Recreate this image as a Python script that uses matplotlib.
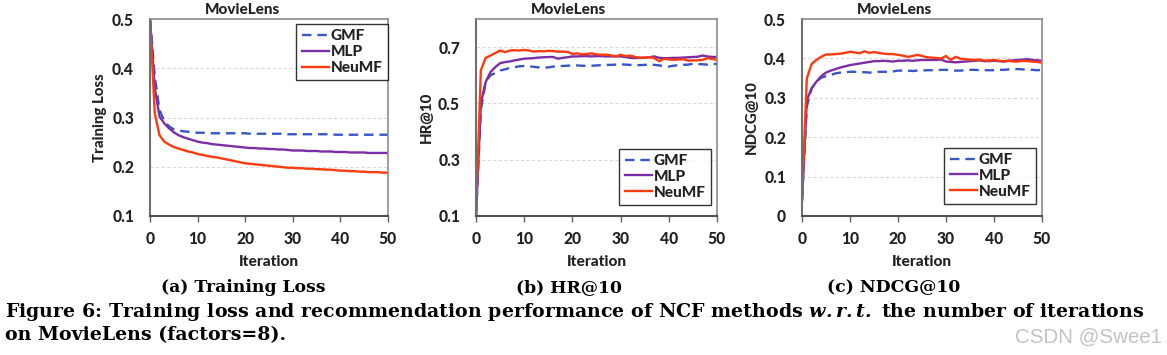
import matplotlib
matplotlib.use("Agg")
import matplotlib.pyplot as plt
import numpy as np

iterations = list(range(51))

loss_gmf = [0.500, 0.383, 0.315, 0.293, 0.282, 0.276, 0.274, 0.272, 0.271, 0.270,
            0.269, 0.269, 0.269, 0.268, 0.268, 0.268, 0.268, 0.268, 0.268, 0.268,
            0.268, 0.267, 0.267, 0.267, 0.267, 0.267, 0.267, 0.267, 0.267, 0.266,
            0.266, 0.266, 0.266, 0.266, 0.266, 0.266, 0.266, 0.266, 0.266, 0.265,
            0.265, 0.265, 0.265, 0.265, 0.265, 0.265, 0.265, 0.265, 0.265, 0.265, 0.265]
loss_mlp = [0.500, 0.360, 0.302, 0.288, 0.278, 0.270, 0.264, 0.260, 0.257, 0.254,
            0.251, 0.249, 0.248, 0.246, 0.245, 0.244, 0.243, 0.242, 0.241, 0.240,
            0.239, 0.238, 0.238, 0.237, 0.237, 0.236, 0.236, 0.235, 0.235, 0.234,
            0.233, 0.233, 0.233, 0.232, 0.232, 0.232, 0.231, 0.231, 0.231, 0.230,
            0.230, 0.230, 0.229, 0.229, 0.229, 0.229, 0.228, 0.228, 0.228, 0.228, 0.228]
loss_neumf = [0.500, 0.308, 0.264, 0.251, 0.245, 0.240, 0.237, 0.234, 0.231, 0.229,
              0.226, 0.224, 0.222, 0.220, 0.219, 0.217, 0.215, 0.213, 0.211, 0.209,
              0.207, 0.206, 0.205, 0.204, 0.203, 0.202, 0.201, 0.200, 0.199, 0.198,
              0.198, 0.197, 0.197, 0.196, 0.196, 0.195, 0.195, 0.194, 0.194, 0.193,
              0.192, 0.192, 0.191, 0.191, 0.190, 0.190, 0.189, 0.189, 0.189, 0.188, 0.188]

hr_gmf = [0.100, 0.476, 0.576, 0.600, 0.608, 0.617, 0.621, 0.626, 0.629, 0.632,
          0.633, 0.632, 0.630, 0.628, 0.627, 0.628, 0.631, 0.633, 0.633, 0.634,
          0.635, 0.635, 0.634, 0.633, 0.634, 0.635, 0.636, 0.637, 0.637, 0.638,
          0.639, 0.638, 0.637, 0.636, 0.636, 0.637, 0.638, 0.637, 0.635, 0.633,
          0.631, 0.634, 0.636, 0.637, 0.638, 0.641, 0.640, 0.639, 0.638, 0.639, 0.641]
hr_mlp = [0.100, 0.499, 0.576, 0.611, 0.629, 0.643, 0.647, 0.649, 0.653, 0.656,
          0.659, 0.660, 0.661, 0.663, 0.664, 0.665, 0.665, 0.659, 0.662, 0.664,
          0.667, 0.667, 0.668, 0.668, 0.667, 0.668, 0.668, 0.667, 0.667, 0.667,
          0.667, 0.665, 0.662, 0.661, 0.662, 0.662, 0.664, 0.667, 0.662, 0.661,
          0.661, 0.662, 0.662, 0.663, 0.664, 0.665, 0.666, 0.670, 0.667, 0.665, 0.665]
hr_neumf = [0.100, 0.617, 0.662, 0.670, 0.679, 0.688, 0.682, 0.688, 0.689, 0.688,
            0.690, 0.688, 0.684, 0.686, 0.685, 0.687, 0.686, 0.684, 0.684, 0.683,
            0.676, 0.678, 0.674, 0.676, 0.678, 0.674, 0.673, 0.673, 0.671, 0.667,
            0.673, 0.668, 0.670, 0.665, 0.662, 0.663, 0.664, 0.661, 0.650, 0.659,
            0.656, 0.655, 0.656, 0.657, 0.652, 0.653, 0.653, 0.655, 0.661, 0.658, 0.655]

ndcg_gmf = [0.040, 0.277, 0.324, 0.341, 0.351, 0.355, 0.358, 0.362, 0.364, 0.365,
            0.366, 0.366, 0.365, 0.365, 0.364, 0.365, 0.366, 0.366, 0.366, 0.367,
            0.369, 0.369, 0.369, 0.368, 0.369, 0.369, 0.370, 0.370, 0.370, 0.371,
            0.371, 0.370, 0.369, 0.369, 0.370, 0.371, 0.371, 0.370, 0.370, 0.370,
            0.370, 0.371, 0.371, 0.372, 0.372, 0.373, 0.372, 0.371, 0.371, 0.370, 0.371]
ndcg_mlp = [0.040, 0.294, 0.324, 0.341, 0.355, 0.364, 0.369, 0.373, 0.377, 0.380,
            0.383, 0.385, 0.387, 0.389, 0.391, 0.393, 0.393, 0.394, 0.393, 0.392,
            0.394, 0.394, 0.395, 0.394, 0.395, 0.396, 0.396, 0.396, 0.396, 0.397,
            0.392, 0.391, 0.390, 0.391, 0.392, 0.393, 0.394, 0.395, 0.393, 0.393,
            0.394, 0.393, 0.392, 0.394, 0.395, 0.396, 0.397, 0.398, 0.396, 0.395, 0.394]
ndcg_neumf = [0.040, 0.349, 0.386, 0.396, 0.404, 0.410, 0.410, 0.411, 0.412, 0.414,
              0.417, 0.415, 0.413, 0.418, 0.414, 0.416, 0.414, 0.412, 0.411, 0.411,
              0.409, 0.407, 0.404, 0.406, 0.409, 0.406, 0.403, 0.402, 0.401, 0.400,
              0.406, 0.396, 0.404, 0.399, 0.398, 0.397, 0.396, 0.397, 0.394, 0.395,
              0.396, 0.394, 0.393, 0.394, 0.392, 0.392, 0.394, 0.393, 0.392, 0.391, 0.389]

series_names = ["GMF", "MLP", "NeuMF"]
panel_title = "MovieLens"
panel_ylabels = ["Training Loss", "HR@10", "NDCG@10"]
panel_xlabel = "Iteration"
panel_captions = ["(a) Training Loss", "(b) HR@10", "(c) NDCG@10"]
x_ticks = [0, 10, 20, 30, 40, 50]
caption_line1 = ("Figure 6: Training loss and recommendation performance of NCF methods "
                 "$\\mathbfit{w.r.t.}$ the number of iterations")
caption_line2 = "on MovieLens (factors=8)."
watermark = "CSDN @Swee1"

W, H = 1167, 355
plt.rcParams["mathtext.fontset"] = "dejavuserif"
fig = plt.figure(figsize=(W / 100, H / 100), dpi=100)
fig.patch.set_facecolor("white")
renderer = fig.canvas.get_renderer()

SANS = ["Lato", "DejaVu Sans"]
SERIF = ["DejaVu Serif"]
SW = 900
colors = {"GMF": "#3a55c8", "MLP": "#7a2fa6", "NeuMF": "#ff3a0f"}
styles = {"GMF": (0, (4, 2.5)), "MLP": "-", "NeuMF": "-"}


def fit_size(s, target_px, family, weight="bold", base=12.0):
    t = fig.text(0, 0, s, fontfamily=family, fontweight=weight, fontsize=base)
    w = t.get_window_extent(renderer).width
    t.remove()
    return base * target_px / w


fs_tick = fit_size("0.5", 22, SANS, SW)
fs_ylab = fit_size("Training Loss", 89, SANS, SW)
fs_xlab = fit_size("Iteration", 60, SANS, SW)
fs_title = fit_size("MovieLens", 75, SANS, SW)
fs_leg = fit_size("NeuMF", 52, SANS, SW)
fs_cap = fit_size("(a) Training Loss", 164, SERIF)
fs_fig = fit_size(caption_line1, 1134, SERIF)
fs_wm = fit_size(watermark, 147, ["Liberation Sans"], weight="normal")


def fx(px):
    return px / W


def fy(py):
    return 1 - py / H


panels = [
    dict(box=(150, 388, 19, 216), data=[loss_gmf, loss_mlp, loss_neumf],
         ylim=(0.1, 0.5), yticks=[0.1, 0.2, 0.3, 0.4, 0.5], ytl=["0.1", "0.2", "0.3", "0.4", "0.5"],
         leg_loc="upper right", leg_anchor=(388, 24), center=243, ylab_x=100),
    dict(box=(476, 717, 19, 216), data=[hr_gmf, hr_mlp, hr_neumf],
         ylim=(0.1, 0.8), yticks=[0.1, 0.3, 0.5, 0.7], ytl=["0.1", "0.3", "0.5", "0.7"],
         leg_loc="lower right", leg_anchor=(711, 205), center=569, ylab_x=427),
    dict(box=(802, 1042, 19, 216), data=[ndcg_gmf, ndcg_mlp, ndcg_neumf],
         ylim=(0.0, 0.5), yticks=[0, 0.1, 0.2, 0.3, 0.4, 0.5], ytl=["0", "0.1", "0.2", "0.3", "0.4", "0.5"],
         leg_loc="lower right", leg_anchor=(1036, 204), center=894, ylab_x=752),
]

leg_px = fs_leg * 100 / 72
TXT = "#222222"

for i, p in enumerate(panels):
    left, right, top, bottom = p["box"]
    ax = fig.add_axes([fx(left), fy(bottom), (right - left) / W, (bottom - top) / H])
    for name, vals in zip(series_names, p["data"]):
        ax.plot(iterations, vals, color=colors[name], linestyle=styles[name],
                linewidth=1.7, label=name)
    ax.set_xlim(0, 50)
    ax.set_ylim(*p["ylim"])
    ax.set_xticks(x_ticks)
    ax.set_xticklabels([str(t) for t in x_ticks], fontfamily=SANS, fontweight=SW,
                       fontsize=fs_tick, color=TXT)
    ax.set_yticks(p["yticks"])
    ax.set_yticklabels(p["ytl"], fontfamily=SANS, fontweight=SW, fontsize=fs_tick, color=TXT)
    ax.tick_params(axis="x", length=4, width=1, color="#606060", direction="out", pad=7)
    ax.tick_params(axis="y", length=0, pad=11.5)
    ax.yaxis.grid(True, color="#dadada", linestyle=(0, (3, 2)), linewidth=0.8)
    ax.set_axisbelow(True)
    for s in ax.spines.values():
        s.set_color("#8c8c8c")
        s.set_linewidth(1.2)
    ax.spines["left"].set_color("#707070")
    ax.spines["bottom"].set_color("#505050")
    ax.spines["left"].set_linewidth(1.5)
    ax.spines["bottom"].set_linewidth(1.5)

    fig.text(fx(p["center"]), fy(10), panel_title, ha="center", va="center",
             fontfamily=SANS, fontweight=SW, fontsize=fs_title, color=TXT)
    fig.text(fx((left + right) / 2), fy(262), panel_xlabel, ha="center", va="center",
             fontfamily=SANS, fontweight=SW, fontsize=fs_xlab, color=TXT)
    fig.text(fx(p["ylab_x"]), fy((top + bottom) / 2), panel_ylabels[i], ha="center",
             va="center", rotation=90, fontfamily=SANS, fontweight=SW,
             fontsize=fs_ylab, color=TXT)

    leg = ax.legend(loc=p["leg_loc"], bbox_to_anchor=(fx(p["leg_anchor"][0]), fy(p["leg_anchor"][1])),
                    bbox_transform=fig.transFigure, frameon=True, fancybox=False,
                    edgecolor="black", prop=dict(family=SANS, weight=SW, size=fs_leg),
                    handlelength=27 / leg_px, handletextpad=2 / leg_px,
                    borderpad=0.35, labelspacing=0.12, borderaxespad=0)
    leg.get_frame().set_linewidth(1.0)
    for t in leg.get_texts():
        t.set_color(TXT)

    fig.text(fx(p["center"]), fy(288), panel_captions[i], ha="center", va="center",
             fontfamily=SERIF, fontweight="bold", fontsize=fs_cap)

fig.text(fx(5), fy(312), caption_line1, ha="left", va="center",
         fontfamily=SERIF, fontweight="bold", fontsize=fs_fig)
fig.text(fx(5), fy(335), caption_line2, ha="left", va="center",
         fontfamily=SERIF, fontweight="bold", fontsize=fs_fig)
fig.text(fx(1162), fy(337), watermark, ha="right", va="center",
         fontfamily=["Liberation Sans"], fontsize=fs_wm, color="#c4c4c4")

fig.savefig("out.png", dpi=100)
